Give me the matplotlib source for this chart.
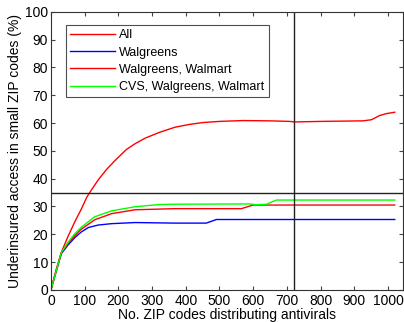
import matplotlib
matplotlib.use("Agg")
import matplotlib.pyplot as plt

plt.rcParams['font.family'] = ['Liberation Sans', 'DejaVu Sans']

all_x = [0, 15, 31, 50, 71, 90, 106, 114, 140, 165, 190, 224, 250, 280, 323, 368, 410, 452, 500, 570, 650, 708, 723, 800, 926, 951, 975, 995, 1020]
all_y = [0, 7, 13.5, 19, 24.5, 29, 33.2, 34.8, 39.5, 43.3, 46.5, 50.5, 52.6, 54.6, 56.7, 58.5, 59.5, 60.2, 60.6, 60.9, 60.8, 60.6, 60.4, 60.6, 60.8, 61.2, 62.7, 63.4, 63.9]

wg_x = [0, 31, 50, 71, 90, 111, 140, 180, 250, 368, 461, 491, 1020]
wg_y = [0, 13, 16, 18.8, 20.8, 22.4, 23.3, 23.8, 24.2, 24.0, 24.0, 25.3, 25.3]

wgwm_x = [0, 31, 50, 71, 90, 130, 180, 250, 368, 565, 600, 1020]
wgwm_y = [0, 13.4, 16.5, 19.5, 21.8, 25.2, 27.4, 28.8, 29.2, 29.2, 30.5, 30.5]

cvs_x = [0, 31, 50, 71, 90, 130, 180, 250, 323, 368, 590, 610, 640, 669, 1020]
cvs_y = [0, 13.4, 17, 20.2, 22.5, 26.3, 28.4, 29.9, 30.7, 30.8, 30.9, 30.6, 30.8, 32.3, 32.3]

labels = ["All", "Walgreens", "Walgreens, Walmart", "CVS, Walgreens, Walmart"]
vline_x = 722
hline_y = 34.7
xticks = list(range(0, 1001, 100))
yticks = list(range(0, 101, 10))

fig = plt.figure(figsize=(4.04, 3.22), dpi=100)
ax = fig.add_axes([0.126, 0.100, 0.872, 0.863])

ax.plot(all_x, all_y, color='#ff0000', lw=1.0, label=labels[0])
ax.plot(wg_x, wg_y, color='#0000ff', lw=1.0, label=labels[1])
ax.plot(wgwm_x, wgwm_y, color='#ff0000', lw=1.0, label=labels[2])
ax.plot(cvs_x, cvs_y, color='#00ff00', lw=1.0, label=labels[3])
ax.axvline(vline_x, color='#222222', lw=1.0)
ax.axhline(hline_y, color='#222222', lw=1.0)

ax.set_xlim(0, 1045)
ax.set_ylim(0, 100)
ax.set_xticks(xticks)
ax.set_yticks(yticks)
ax.tick_params(direction='in', top=True, right=True, length=3, labelsize=10, color='#444444')
ax.tick_params(axis='x', pad=3)
ax.tick_params(axis='y', pad=2)
for s in ax.spines.values():
    s.set_color('#333333')
    s.set_linewidth(0.8)

ax.set_xlabel("No. ZIP codes distributing antivirals", fontsize=10, labelpad=0)
ax.set_ylabel("Underinsured access in small ZIP codes (%)", fontsize=10, labelpad=2)

leg = ax.legend(loc='upper left', bbox_to_anchor=(0.043, 0.953), fontsize=9, frameon=True,
                fancybox=False, edgecolor='#222222', handlelength=3.6, handletextpad=0.3,
                labelspacing=0.42, borderpad=0.35, borderaxespad=0)
leg.get_frame().set_linewidth(0.8)

fig.savefig("out.png", dpi=100)
